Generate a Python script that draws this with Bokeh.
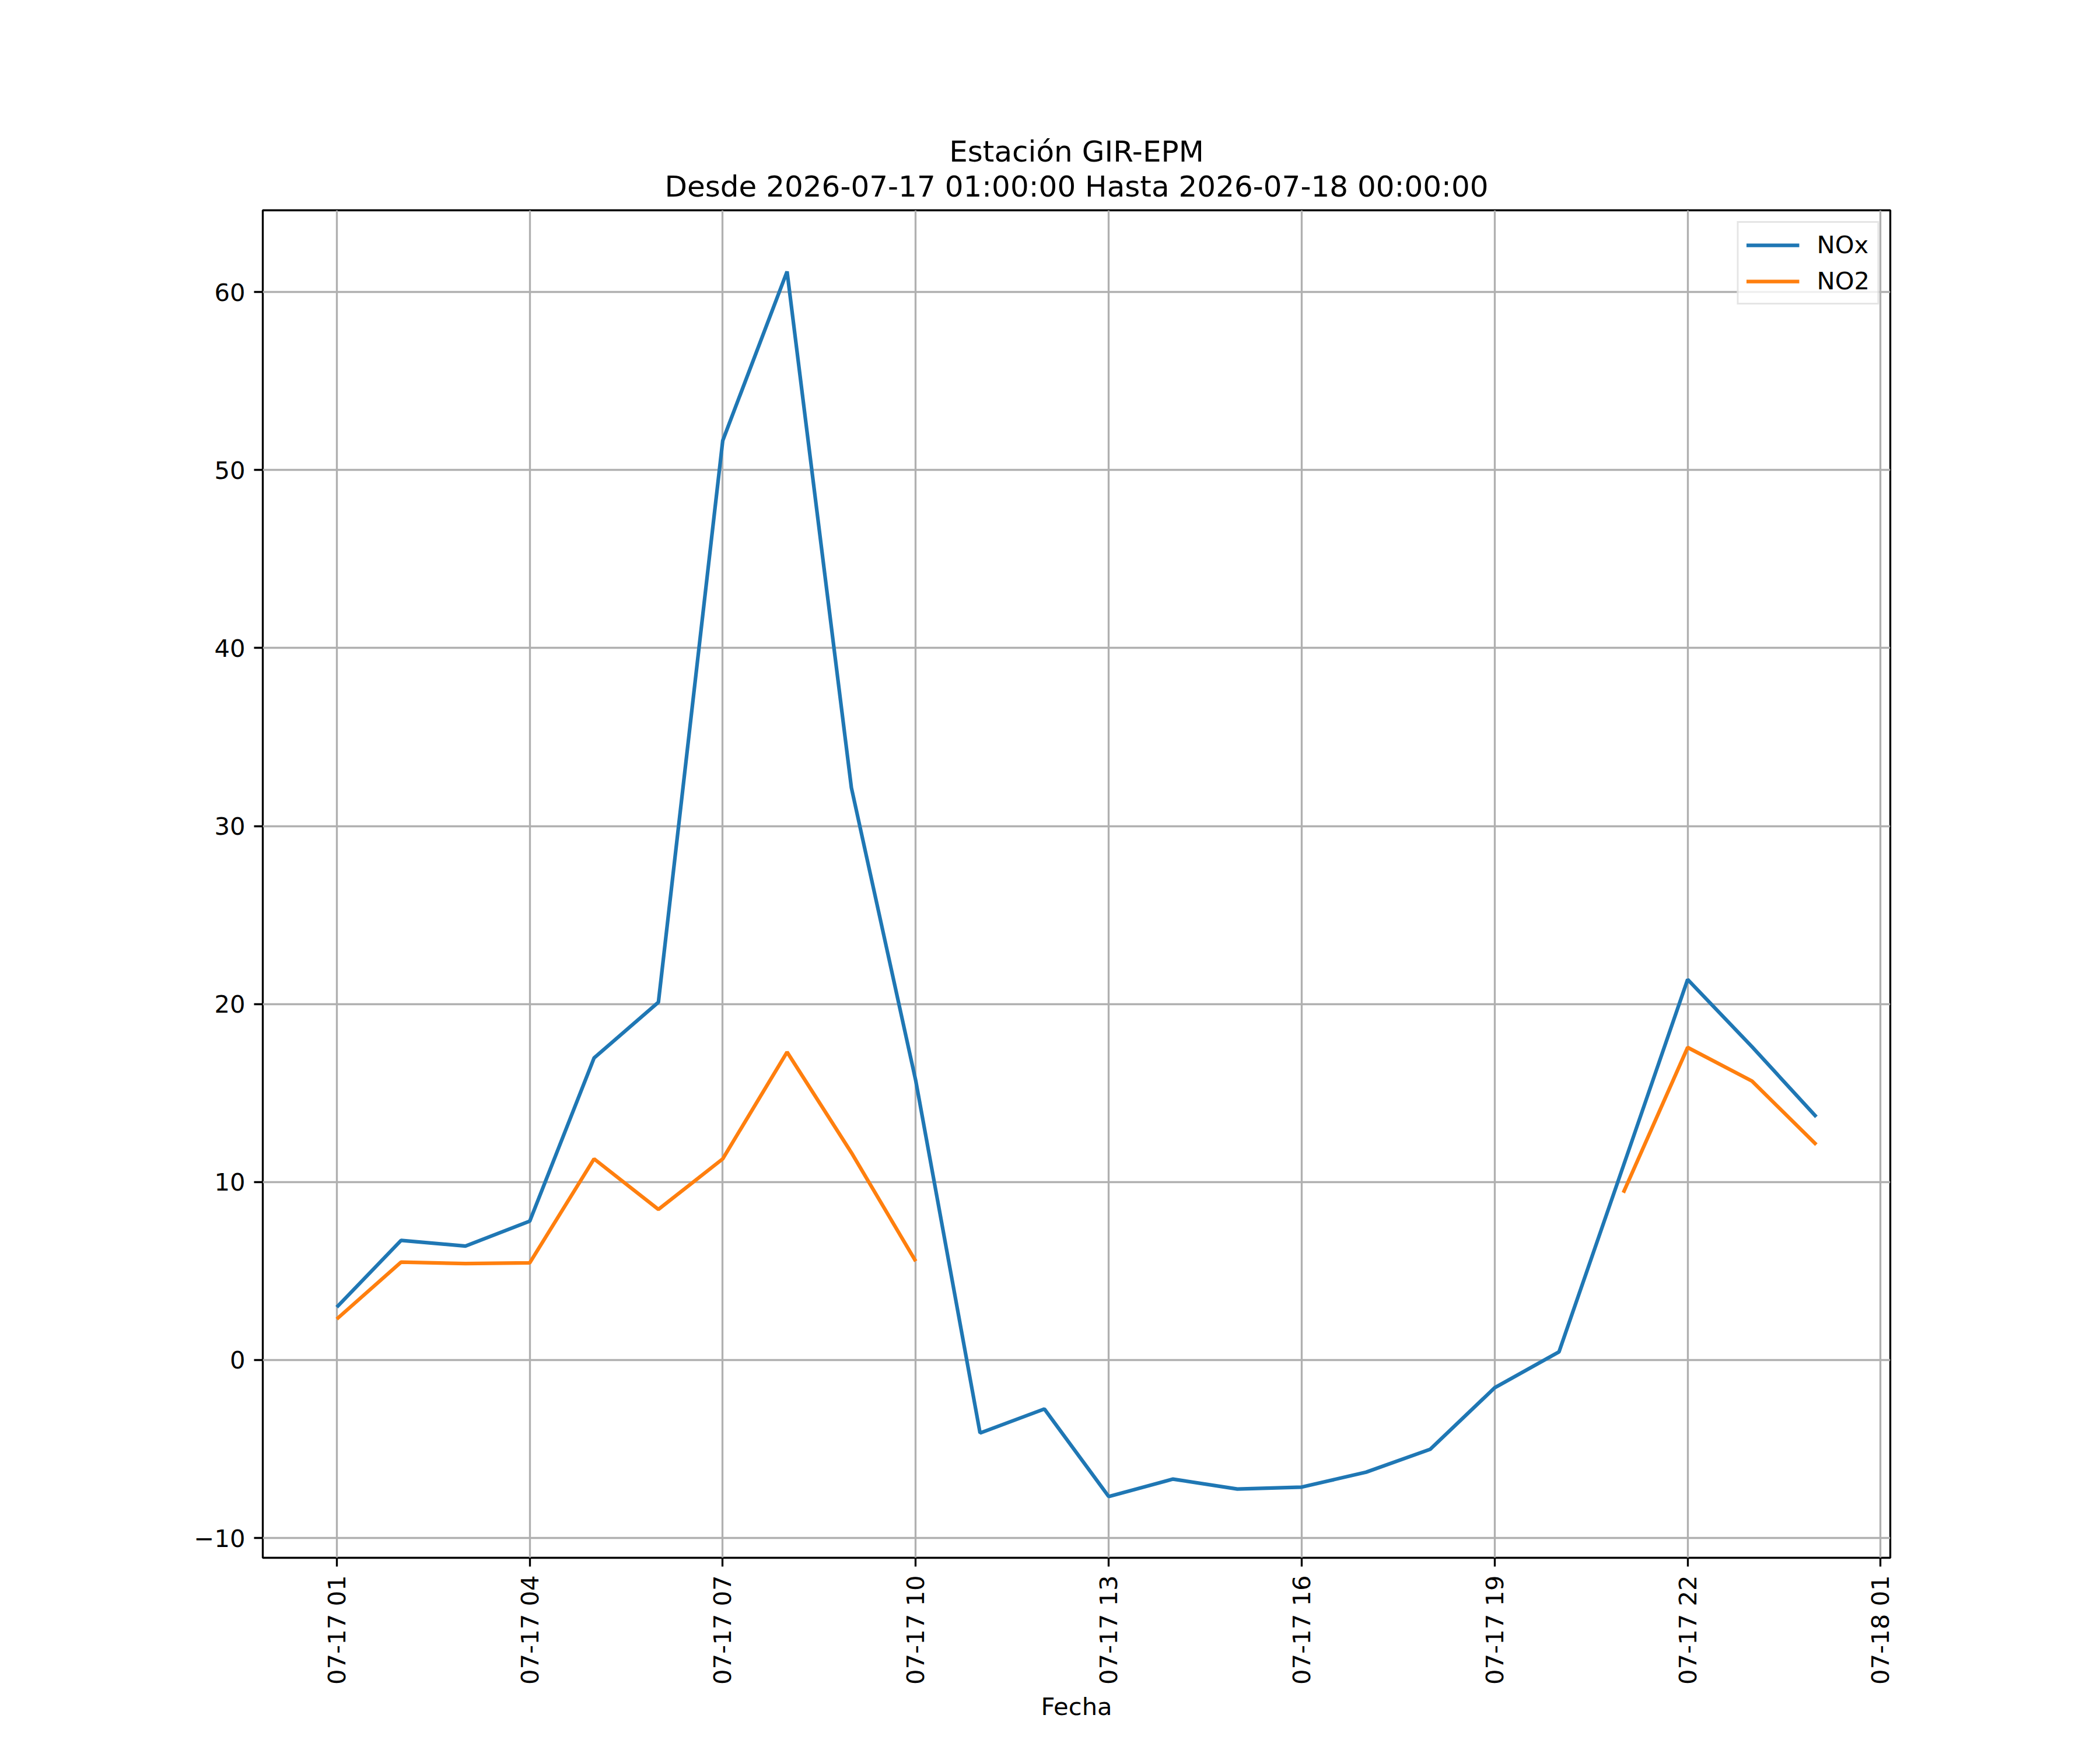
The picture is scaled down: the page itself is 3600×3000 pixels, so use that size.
import math
import pandas as pd
from bokeh.plotting import figure
from bokeh.models import (ColumnDataSource, FixedTicker, DatetimeTickFormatter,
                          Range1d, Title, Legend, LegendItem)
from bokeh.embed import file_html
from bokeh.resources import INLINE

# ---------------- data ----------------
fechas = ["2026-07-17 01:00", "2026-07-17 02:00", "2026-07-17 03:00", "2026-07-17 04:00",
          "2026-07-17 05:00", "2026-07-17 06:00", "2026-07-17 07:00", "2026-07-17 08:00",
          "2026-07-17 09:00", "2026-07-17 10:00", "2026-07-17 11:00", "2026-07-17 12:00",
          "2026-07-17 13:00", "2026-07-17 14:00", "2026-07-17 15:00", "2026-07-17 16:00",
          "2026-07-17 17:00", "2026-07-17 18:00", "2026-07-17 19:00", "2026-07-17 20:00",
          "2026-07-17 21:00", "2026-07-17 22:00", "2026-07-17 23:00", "2026-07-18 00:00"]
nox = [2.97, 6.72, 6.40, 7.80, 16.97, 20.10, 51.65, 61.15, 32.15, 15.70, -4.10, -2.75,
       -7.67, -6.69, -7.25, -7.14, -6.30, -5.01, -1.56, 0.46, 10.90, 21.38, 17.60, 13.66]
nan = float("nan")
no2 = [2.30, 5.50, 5.42, 5.46, 11.30, 8.46, 11.30, 17.30, 11.65, 5.55, nan, nan,
       nan, nan, nan, nan, nan, nan, nan, nan, 9.40, 17.56, 15.67, 12.10]
x_tick_dates = ["2026-07-17 01:00", "2026-07-17 04:00", "2026-07-17 07:00", "2026-07-17 10:00",
                "2026-07-17 13:00", "2026-07-17 16:00", "2026-07-17 19:00", "2026-07-17 22:00",
                "2026-07-18 01:00"]
y_ticks = [-10, 0, 10, 20, 30, 40, 50, 60]
titulo1 = "Estación GIR-EPM"
titulo2 = "Desde 2026-07-17 01:00:00 Hasta 2026-07-18 00:00:00"
xlabel = "Fecha"

# ---------------- styling constants ----------------
FONT = "DejaVu Sans"
PT = 300 / 72.0
C_NOX = "#1f77b4"
C_NO2 = "#ff7f0e"

x = pd.to_datetime(fechas)
src = ColumnDataSource(dict(x=x, nox=nox, no2=no2))

t0 = x.min()
t1 = x.max()
span = t1 - t0
xr = Range1d(t0 - 0.05 * span, t1 + 0.05 * span)
vals = [v for v in nox + no2 if not math.isnan(v)]
ymin, ymax = min(vals), max(vals)
pad = 0.05 * (ymax - ymin)
yr = Range1d(ymin - pad, ymax + pad)

W, H = 3584, 2984
p = figure(width=W, height=H, x_axis_type="datetime", x_range=xr, y_range=yr,
           output_backend="svg", toolbar_location=None,
           min_border_left=450, min_border_right=344, min_border_top=360,
           min_border_bottom=314)
p.background_fill_color = "white"
p.border_fill_color = "white"
p.outline_line_color = "black"
p.outline_line_width = 0.8 * PT

r1 = p.line("x", "nox", source=src, line_color=C_NOX, line_width=1.5 * PT)
r2 = p.line("x", "no2", source=src, line_color=C_NO2, line_width=1.5 * PT)

# titles (second line added first -> closest to plot)
p.add_layout(Title(text=titulo2, align="center", text_font=FONT, text_font_size=f"{12*PT:.1f}px",
                   text_font_style="normal", text_color="black", standoff=23), "above")
p.add_layout(Title(text=titulo1, align="center", text_font=FONT, text_font_size=f"{12*PT:.1f}px",
                   text_font_style="normal", text_color="black", standoff=-23), "above")

# axes
xt = [pd.Timestamp(d).value // 10**6 for d in x_tick_dates]
p.xaxis.ticker = FixedTicker(ticks=xt)
fmt = "%m-%d %H"
p.xaxis.formatter = DatetimeTickFormatter(hours=fmt, hourmin=fmt, days=fmt, months=fmt,
                                          years=fmt, minutes=fmt, seconds=fmt,
                                          minsec=fmt, milliseconds=fmt, microseconds=fmt)
p.xaxis.major_label_orientation = math.pi / 2
p.xaxis.axis_label = xlabel
p.yaxis.ticker = FixedTicker(ticks=y_ticks)
p.yaxis.major_label_overrides = {v: (("\u2212" + str(abs(v))) if v < 0 else str(v)) for v in y_ticks}

for ax in (p.xaxis, p.yaxis):
    ax.axis_line_color = None
    ax.major_tick_line_color = "black"
    ax.major_tick_line_width = 0.8 * PT
    ax.major_tick_out = int(round(3.5 * PT))
    ax.major_tick_in = 0
    ax.minor_tick_line_color = None
    ax.major_label_text_font = FONT
    ax.major_label_text_font_size = f"{10*PT:.1f}px"
    ax.major_label_text_color = "black"
    ax.major_label_standoff = int(round(3.5 * PT))
    ax.axis_label_text_font = FONT
    ax.axis_label_text_font_size = f"{10*PT:.1f}px"
    ax.axis_label_text_font_style = "normal"
    ax.axis_label_text_color = "black"
p.xaxis.axis_label_standoff = 10

p.grid.grid_line_color = "#b0b0b0"
p.grid.grid_line_width = 0.8 * PT

legend = Legend(items=[LegendItem(label="NOx", renderers=[r1]),
                       LegendItem(label="NO2", renderers=[r2])],
                location="top_right")
legend.label_text_font = FONT
legend.label_text_font_size = f"{10*PT:.1f}px"
legend.label_text_color = "black"
legend.glyph_width = 91
legend.glyph_height = 42
legend.label_height = 42
legend.label_standoff = 30
legend.spacing = 13
legend.padding = 13
legend.margin = 19
legend.border_line_color = "#cccccc"
legend.border_line_width = 0.8 * PT
legend.background_fill_alpha = 0.8
p.add_layout(legend)

open("out.html", "w").write(file_html(p, INLINE))
